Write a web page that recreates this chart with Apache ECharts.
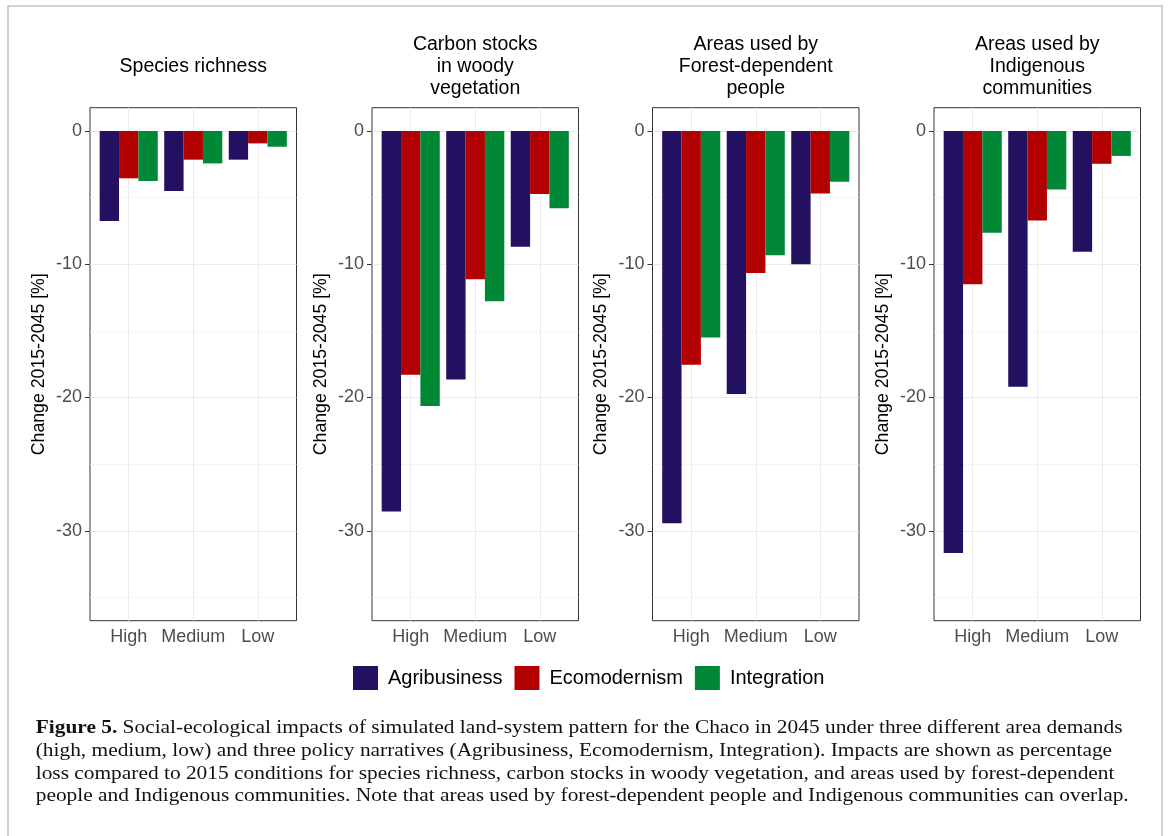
<!DOCTYPE html>
<html><head><meta charset="utf-8">
<script src="https://cdn.jsdelivr.net/npm/echarts@6/dist/echarts.min.js"></script>
<style>html,body{margin:0;padding:0;background:#fff;} #chart{width:1170px;height:836px;}</style>
</head><body><div id="chart"></div>
<script>
// ---- data ----
const demandLevels = ['High', 'Medium', 'Low'];
const policies = ['Agribusiness', 'Ecomodernism', 'Integration'];
const panelTitles = ['Species richness', 'Carbon stocks\nin woody\nvegetation', 'Areas used by\nForest-dependent\npeople', 'Areas used by\nIndigenous\ncommunities'];
const speciesAgri = [-6.75, -4.5, -2.15];
const speciesEco = [-3.55, -2.15, -0.93];
const speciesInt = [-3.75, -2.43, -1.18];
const carbonAgri = [-28.55, -18.65, -8.68];
const carbonEco = [-18.3, -11.13, -4.73];
const carbonInt = [-20.63, -12.78, -5.8];
const forestAgri = [-29.43, -19.73, -10.0];
const forestEco = [-17.55, -10.65, -4.68];
const forestInt = [-15.5, -9.33, -3.8];
const indigAgri = [-31.66, -19.2, -9.07];
const indigEco = [-11.5, -6.72, -2.46];
const indigInt = [-7.63, -4.39, -1.87];
const yMajorTicks = [0, -10, -20, -30];
const yMinorTicks = [-5, -15, -25, -35];
const yLimits = [-35, 0];
const yAxisName = 'Change 2015-2045 [%]';
const captionBold = 'Figure 5.';
const captionLines = [
  ' Social-ecological impacts of simulated land-system pattern for the Chaco in 2045 under three different area demands',
  '(high, medium, low) and three policy narratives (Agribusiness, Ecomodernism, Integration). Impacts are shown as percentage',
  'loss compared to 2015 conditions for species richness, carbon stocks in woody vegetation, and areas used by forest-dependent',
  'people and Indigenous communities. Note that areas used by forest-dependent people and Indigenous communities can overlap.'
];

const panelValues = [
  [speciesAgri, speciesEco, speciesInt],
  [carbonAgri, carbonEco, carbonInt],
  [forestAgri, forestEco, forestInt],
  [indigAgri, indigEco, indigInt]
];
const colors = ['#241060', '#b30000', '#008837'];

// ---- layout ----
const SANS = '"Liberation Sans", Arial, sans-serif';
const SERIF = '"Liberation Serif", "Times New Roman", serif';
const expand = (yLimits[1] - yLimits[0]) * 0.05;
const yMin = yLimits[0] - expand, yMax = yLimits[1] + expand;
const panelLeft = [90, 372, 652.5, 934];
const panelW = 206.5, panelTop = 107.7, panelH = 513;
const catExpand = 0.6;
const unit = panelW / (demandLevels.length - 1 + 2 * catExpand);

const grids = [], xAxes = [], yAxes = [], series = [], titles = [];
const nP = panelTitles.length;
for (let i = 0; i < nP; i++) {
  grids.push({ left: panelLeft[i], top: panelTop, width: panelW, height: panelH, show: true, borderColor: '#333333', borderWidth: 1, backgroundColor: 'transparent', containLabel: false });
}
for (let i = 0; i < nP; i++) {
  grids.push({ left: panelLeft[i] + (catExpand - 0.5) * unit, top: panelTop, width: unit * demandLevels.length, height: panelH, show: false, containLabel: false });
}
for (let i = 0; i < nP; i++) {
  xAxes.push({
    type: 'value', gridIndex: i, min: 1 - catExpand, max: demandLevels.length + catExpand,
    axisLine: { show: false },
    axisTick: { show: true, length: 5, customValues: demandLevels.map((d, k) => k + 1), lineStyle: { color: '#333333', width: 1 } },
    axisLabel: { show: true, customValues: demandLevels.map((d, k) => k + 1), formatter: v => demandLevels[Math.round(v) - 1], color: '#4d4d4d', fontSize: 18, fontFamily: SANS, margin: 7 },
    splitLine: { show: true, lineStyle: { color: '#ebebeb', width: 1 } }
  });
}
for (let i = 0; i < nP; i++) {
  xAxes.push({ type: 'category', gridIndex: nP + i, data: demandLevels, show: false, boundaryGap: true });
}
for (let i = 0; i < nP; i++) {
  yAxes.push({
    type: 'value', gridIndex: i, min: yMin, max: yMax, position: 'left',
    name: yAxisName, nameLocation: 'middle', nameGap: 42, nameRotate: 90,
    nameTextStyle: { color: '#000', fontSize: 17.7, fontFamily: SANS },
    axisLine: { show: false },
    axisTick: { show: true, length: 5, customValues: yMajorTicks, lineStyle: { color: '#333333', width: 1 } },
    axisLabel: { show: true, customValues: yMajorTicks, color: '#4d4d4d', fontSize: 18, fontFamily: SANS, margin: 8 },
    splitLine: { show: true, lineStyle: { color: '#ebebeb', width: 1.2 } }
  });
}
for (let i = 0; i < nP; i++) {
  yAxes.push({
    type: 'value', gridIndex: i, min: yMin, max: yMax, position: 'left',
    axisLine: { show: false },
    axisTick: { show: false, customValues: yMinorTicks },
    axisLabel: { show: false, customValues: yMinorTicks },
    splitLine: { show: true, lineStyle: { color: '#f2f2f2', width: 0.8 } }
  });
}
for (let i = 0; i < nP; i++) {
  yAxes.push({ type: 'value', gridIndex: nP + i, min: yMin, max: yMax, show: false, splitLine: { show: false } });
}
for (let i = 0; i < nP; i++) {
  for (let p = 0; p < policies.length; p++) {
    series.push({
      type: 'bar', name: policies[p], xAxisIndex: nP + i, yAxisIndex: 2 * nP + i,
      data: panelValues[i][p], barGap: '0%', barCategoryGap: '10%',
      itemStyle: { color: colors[p] }, silent: true, animation: false
    });
  }
  const nLines = panelTitles[i].split('\n').length;
  titles.push({
    text: panelTitles[i], left: panelLeft[i] + panelW / 2, top: 67 - nLines * 22 / 2, textAlign: 'center', padding: 0,
    textStyle: { fontSize: 19.5, fontWeight: 'normal', color: '#000', fontFamily: SANS, lineHeight: 22 }
  });
}

// caption scaling to match reference width
const cv = document.createElement('canvas').getContext('2d');
const capSize = 19;
cv.font = capSize + 'px ' + SERIF;
const w4 = cv.measureText(captionLines[3]).width;
const capScale = 1093 / w4;
const capBaselines = [734, 756.7, 779.3, 802];
const graphics = [
  { type: 'rect', shape: { x: 8, y: 6, width: 1154, height: 850 }, style: { fill: 'none', stroke: '#c4c4c4', lineWidth: 1.5 }, silent: true, z: 0 }
];
captionLines.forEach((line, k) => {
  graphics.push({
    type: 'text', x: 35.7, y: capBaselines[k] - 5.5, scaleX: capScale, silent: true,
    style: {
      text: k === 0 ? '{b|' + captionBold + '}' + line : line,
      x: 0, y: 0, verticalAlign: 'middle', align: 'left',
      fontSize: capSize, fontFamily: SERIF, fill: '#111',
      rich: { b: { fontWeight: 'bold', fontSize: capSize, fontFamily: SERIF, color: '#111' } }
    }
  });
});

const chart = echarts.init(document.getElementById('chart'), null, { renderer: 'canvas' });
chart.setOption({
  animation: false,
  backgroundColor: '#fff',
  textStyle: { fontFamily: SANS },
  title: titles,
  legend: {
    data: policies, left: 353, top: 666, padding: 0, icon: 'rect', itemWidth: 25, itemHeight: 24, itemGap: 12,
    textStyle: { fontSize: 20, color: '#000', fontFamily: SANS, padding: [0, 0, 0, 5] },
    selectedMode: false
  },
  grid: grids, xAxis: xAxes, yAxis: yAxes, series: series,
  graphic: graphics
});
</script></body></html>
